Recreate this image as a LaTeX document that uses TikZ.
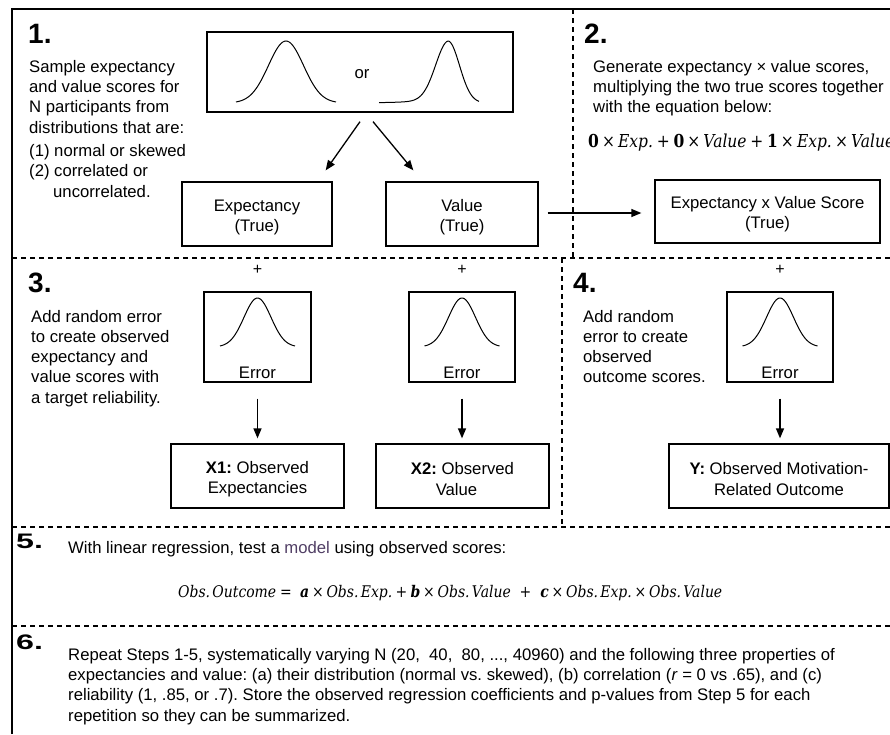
\documentclass[tikz,border=0pt]{standalone}
\usepackage[no-math]{fontspec}
\setmainfont{Liberation Sans}
\newfontfamily\eqfont{DejaVu Serif}
\usepackage{graphicx}
\usetikzlibrary{arrows.meta,calc}
\definecolor{modelcol}{RGB}{80,62,100}
\newcommand{\bodyfont}{\fontsize{16.7}{20.3}\selectfont}
\newcommand{\tup}{\rule{0pt}{18pt}}
\newcommand{\ev}[1]{{\itshape #1}}
\newcommand{\eb}[1]{{\bfseries\itshape #1}}
\newcommand{\eu}[1]{{\bfseries #1}}
\newcommand{\eqtimes}{\hspace{0.2em}×\hspace{0.2em}}
\newcommand{\eqplus}{\hspace{0.24em}+\hspace{0.24em}}
\begin{document}
\frenchspacing
\begin{tikzpicture}[x=1pt,y=-1pt,
  box/.style={draw, line width=1.3pt, inner sep=0pt, align=center, font=\bodyfont},
  txt/.style={inner sep=0pt, align=left, anchor=north west, font=\bodyfont},
  head/.style={inner sep=0pt, anchor=base west, font=\fontsize{28}{30}\selectfont\bfseries},
  dline/.style={dash pattern=on 5pt off 4pt, line width=1.3pt},
  frame/.style={line width=1.6pt},
  arr/.style={-{Triangle[length=10pt,width=8pt]}, line width=1.3pt},
  curve/.style={line width=1pt},
  plus/.style={inner sep=0pt, font=\fontsize{16}{16}\selectfont},
  eq/.style={inner sep=0pt, anchor=base west, font=\eqfont\fontsize{14}{16}\selectfont}
]
\useasboundingbox (0,0) rectangle (890,734);
\clip (0,0) rectangle (890,734);

% frame and dividers
\draw[frame] (12,734) -- (12,9) -- (890,9);
\draw[dline] (12,258) -- (890,258);
\draw[dline] (573,9) -- (573,258);
\draw[dline] (562,258) -- (562,527);
\draw[dline] (12,527) -- (890,527);
\draw[dline] (12,626) -- (890,626);

% ---------- Step 1
\node[head] (h1) at (28,43) {1.};
\node[txt] (t1) at (29,60) {Sample expectancy\\and value scores for\\N participants from\\distributions that are:\\[3pt](1) normal or skewed\\(2) correlated or\\\hspace*{24pt}uncorrelated.};
\node[box, minimum width=306pt, minimum height=80pt] (dist) at (360,72) {};
\draw[curve] plot[domain=-50:50,samples=61,smooth] ({286+\x},{103-62*exp(-(\x/17.5)*(\x/17.5)/2)});
\node[font=\bodyfont, inner sep=0pt] (or) at (362,74) {or};
\draw[curve] plot[domain=-69:0,samples=50,smooth] ({448+\x},{103-62*(0.9*exp(-(\x/12.5)*(\x/12.5)/2)+0.1*exp(\x/25))})
  -- plot[domain=0:31,samples=30,smooth] ({448+\x},{103-62*exp(-(\x/11.5)*(\x/11.5)/2)});
\node[box, minimum width=150pt, minimum height=64pt] (exp) at (257,214) {\tup Expectancy\\(True)};
\node[box, minimum width=152pt, minimum height=64pt] (val) at (462,214) {\tup Value\\(True)};
\draw[arr] ($(dist.south)+(0,9)$) -- ($(exp.north east)+(-7,-11)$);
\draw[arr] ($(dist.south)+(13,9)$) -- ($(val.north west)+(28,-11)$);

% ---------- Step 2
\node[head] (h2) at (584,43) {2.};
\node[txt] (t2) at (593,60) {Generate expectancy × value scores,\\multiplying the two true scores together\\with the equation below:};
\node[eq] (eq2) at (588,147.5) {\scalebox{1}[1.15]{\resizebox{306pt}{!}{\eu{0}\eqtimes\ev{Exp.}\eqplus\eu{0}\eqtimes\ev{Value}\eqplus\eu{1}\eqtimes\ev{Exp.}\eqtimes\ev{Value}}}};
\node[box, minimum width=225pt, minimum height=63pt] (evs) at (767.5,211.5) {\tup Expectancy x Value Score\\(True)};
\draw[arr] ($(val.east)+(9,-1)$) -- ($(evs.west |- val.east)+(-13,-1)$);

% ---------- Step 3
\node[head] (h3) at (28,292) {3.};
\node[txt] (t3) at (31,309.7) {Add random error\\to create observed\\expectancy and\\value scores with\\a target reliability.};
\node[plus] (p1) at (257.5,269.5) {+};
\node[box, minimum width=107pt, minimum height=90pt] (err1) at (257.5,337) {};
\draw[curve] plot[domain=-37.5:37.5,samples=50,smooth] ({257.5+\x},{347-49*exp(-(\x/13.5)*(\x/13.5)/2)});
\node[font=\bodyfont, inner sep=0pt, anchor=base] (el1) at (257.5,378) {Error};
\node[box, minimum width=173pt, minimum height=64pt] (x1) at (257.5,476) {\tup\textbf{X1:} Observed\\Expectancies};
\draw[arr] ($(err1.south)+(0,16)$) -- ($(x1.north)+(0,-5)$);

\node[plus] (p2) at (462,269.5) {+};
\node[box, minimum width=106pt, minimum height=90pt] (err2) at (462,337) {};
\draw[curve] plot[domain=-37.5:37.5,samples=50,smooth] ({462+\x},{347-49*exp(-(\x/13.5)*(\x/13.5)/2)});
\node[font=\bodyfont, inner sep=0pt, anchor=base] (el2) at (462,378) {Error};
\node[box, minimum width=173pt, minimum height=64pt] (x2) at (462.5,476) {\tup\textbf{X2:} Observed\\Value\hspace*{12pt}};
\draw[arr] ($(err2.south)+(0,16)$) -- ($(err2.south |- x2.north)+(0,-5)$);

% ---------- Step 4
\node[head] (h4) at (573,292) {4.};
\node[txt] (t4) at (583,309.7) {Add random\\error to create\\observed\\outcome scores.};
\node[plus] (p3) at (780,269.5) {+};
\node[box, minimum width=106pt, minimum height=90pt] (err3) at (780,337) {};
\draw[curve] plot[domain=-37.5:37.5,samples=50,smooth] ({780+\x},{347-49*exp(-(\x/13.5)*(\x/13.5)/2)});
\node[font=\bodyfont, inner sep=0pt, anchor=base] (el3) at (780,378) {Error};
\node[box, minimum width=220pt, minimum height=64pt] (yb) at (779,476) {\tup\textbf{Y:} Observed Motivation-\\Related Outcome};
\draw[arr] ($(err3.south)+(0,16)$) -- ($(err3.south |- yb.north)+(0,-5)$);

% ---------- Step 5
\node[head] (h5) at (16,548.5) {\scalebox{1.15}[0.75]{5.}};
\node[txt, anchor=base west] (t5) at (68,553.3) {With linear regression, test a \textcolor{modelcol}{model} using observed scores:};
\node[eq] (eq5) at (178,597.5) {\scalebox{1}[1.15]{\resizebox{544pt}{!}{\ev{Obs.\,Outcome}\hspace{0.28em}=\hspace{0.6em}\eb{a}\eqtimes\ev{Obs.\,Exp.}\eqplus\eb{b}\eqtimes\ev{Obs.\,Value}\hspace{0.4em}\eqplus\hspace{0.4em}\eb{c}\eqtimes\ev{Obs.\,Exp.}\eqtimes\ev{Obs.\,Value}}}};

% ---------- Step 6
\node[head] (h6) at (16,649) {\scalebox{1.15}[0.75]{6.}};
\node[txt] (t6) at (68,648) {Repeat Steps 1-5, systematically varying N (20,\ \ 40,\ \ 80, ..., 40960) and the following three properties of\\expectancies and value: (a) their distribution (normal vs. skewed), (b) correlation (\textit{r} = 0 vs .65), and (c)\\reliability (1, .85, or .7). Store the observed regression coefficients and p-values from Step 5 for each\\repetition so they can be summarized.};
\end{tikzpicture}
\end{document}
